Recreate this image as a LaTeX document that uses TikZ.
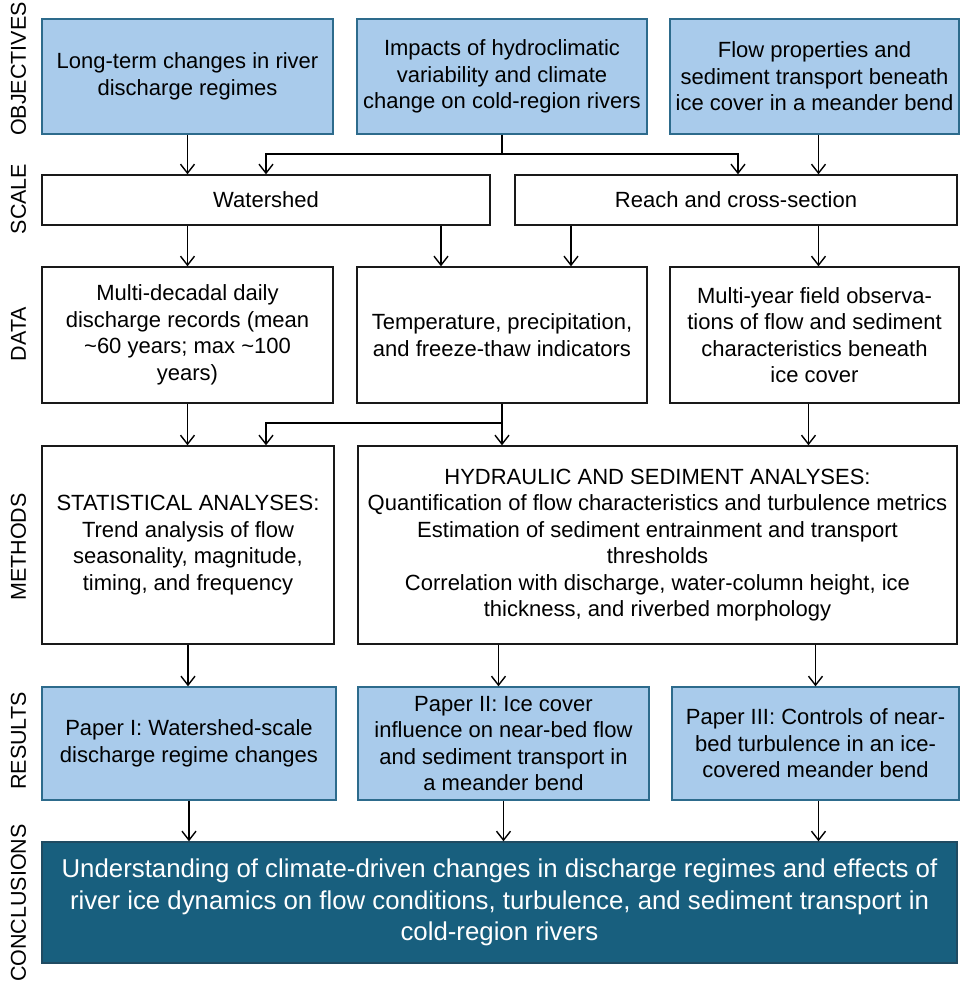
\documentclass[tikz,border=0pt]{standalone}
\usepackage{fontspec}
\setmainfont{Liberation Sans}
\usetikzlibrary{arrows.meta}
\usetikzlibrary{positioning}
\definecolor{paleblue}{HTML}{A9CBEB}
\definecolor{edgeblue}{HTML}{2D6B8C}
\definecolor{deepteal}{HTML}{185F7E}
\tikzset{>={Straight Barb[length=9pt,width=14pt]}}
\tikzset{box/.style = {draw=black!90, line width=1.4pt, align=center, inner sep=0pt,
                       font=\fontsize{22}{26.5}\selectfont},
         obj/.style = {box, fill=paleblue, draw=edgeblue},
         concl/.style = {box, fill=deepteal, draw=edgeblue!70!black, text=white,
                         font=\fontsize{25.8}{31.5}\selectfont},
         side/.style = {rotate=90, inner sep=0pt, font=\fontsize{21.5}{24}\selectfont}}

\begin{document}
\begin{tikzpicture}[x=1pt, y=-1pt, line width=1.4pt]
    \useasboundingbox (0,0) rectangle (959,982);

    % row labels
    \node [side] (lobj) at (18.5, 69) {OBJECTIVES};
    \node [side] (lsca) at (18.5, 199) {SCALE};
    \node [side] (ldat) at (18.5, 334) {DATA};
    \node [side] (lmet) at (18.5, 547) {METHODS};
    \node [side] (lres) at (18.5, 741) {RESULTS};
    \node [side] (lcon) at (18.5, 903) {CONCLUSIONS};

    % objectives
    \node [obj, minimum width=291, minimum height=115] (o1) at (187.5, 76.5)
      {Long-term changes in river\\discharge regimes};
    \node [obj, minimum width=290, minimum height=115] (o2) at (502, 76.5)
      {Impacts of hydroclimatic\\variability and climate\\change on cold-region rivers};
    \node [obj, minimum width=289, minimum height=115] (o3) at (814.5, 76.5)
      {Flow properties and\\sediment transport beneath\\ice cover in a meander bend};

    % scale
    \node [box, minimum width=448, minimum height=50] (ws) at (266, 200) {Watershed};
    \node [box, minimum width=442, minimum height=50] (rc) at (736, 200) {Reach and cross-section};

    % data
    \node [box, minimum width=291, minimum height=136] (d1) at (187.5, 335)
      {Multi-decadal daily\\discharge records (mean\\\textasciitilde60 years; max \textasciitilde100\\years)};
    \node [box, minimum width=290, minimum height=136] (d2) at (502, 335)
      {Temperature, precipitation,\\and freeze-thaw indicators};
    \node [box, minimum width=289, minimum height=136] (d3) at (814.5, 335)
      {Multi-year field observa-\\tions of flow and sediment\\characteristics beneath\\ice cover};

    % methods
    \node [box, minimum width=292, minimum height=198] (m1) at (188, 545)
      {STATISTICAL ANALYSES:\\Trend analysis of flow\\seasonality, magnitude,\\timing, and frequency};
    \node [box, minimum width=599, minimum height=198] (m2) at (657.5, 545)
      {HYDRAULIC AND SEDIMENT ANALYSES:\\Quantification of flow characteristics and turbulence metrics\\
       Estimation of sediment entrainment and transport\\thresholds\\
       Correlation with discharge, water-column height, ice\\thickness, and riverbed morphology};

    % results
    \node [obj, minimum width=294, minimum height=113] (r1) at (189, 743.5)
      {Paper I: Watershed-scale\\discharge regime changes};
    \node [obj, minimum width=291, minimum height=113] (r2) at (503.5, 743.5)
      {Paper II: Ice cover\\influence on near-bed flow\\and sediment transport in\\a meander bend};
    \node [obj, minimum width=287, minimum height=113] (r3) at (815.5, 743.5)
      {Paper III: Controls of near-\\bed turbulence in an ice-\\covered meander bend};

    % conclusions
    \node [concl, minimum width=915, minimum height=121] (cc) at (499.5, 902.5)
      {Understanding of climate-driven changes in discharge regimes and effects of\\
       river ice dynamics on flow conditions, turbulence, and sediment transport in\\
       cold-region rivers};

    % objectives -> scale
    \coordinate (j1) at (o2.south |- 0,154);
    \draw [->] (o1) -- (o1 |- ws.north);
    \draw (o2) -- (j1);
    \draw [->] (j1) -| (ws.north);
    \draw [->] (j1) -| ([xshift=2]rc.north);
    \draw [->] ([xshift=4]o3.south) -- ([xshift=4]o3.south |- rc.north);

    % scale -> data
    \draw [->] (ws.south -| d1.north) -- (d1.north);
    \draw [->] ([xshift=175]ws.south) -- ([xshift=175]ws.south |- d2.north);
    \draw [->] ([xshift=-165]rc.south) -- ([xshift=-165]rc.south |- d2.north);
    \draw [->] ([xshift=4]rc.south -| d3.north) -- ([xshift=4]d3.north);

    % data -> methods
    \coordinate (j2) at (d2.south |- 0,423);
    \draw [->] (d1) -- (d1 |- m1.north);
    \draw (d2) -- (j2);
    \draw [->] (j2) -- (j2 |- m2.north);
    \draw [->] (j2) -| ([xshift=78]m1.north);
    \draw [->] ([xshift=-6]d3.south) -- ([xshift=-6]d3.south |- m2.north);

    % methods -> results
    \draw [->] (m1) -- (m1 |- r1.north);
    \draw [->] ([xshift=-5]m2.south -| r2.north) -- ([xshift=-5]r2.north);
    \draw [->] (m2.south -| r3.north) -- (r3.north);

    % results -> conclusions
    \draw [->] (r1) -- (r1 |- cc.north);
    \draw [->] (r2) -- (r2 |- cc.north);
    \draw [->] ([xshift=3]r3.south) -- ([xshift=3]r3.south |- cc.north);
\end{tikzpicture}
\end{document}
